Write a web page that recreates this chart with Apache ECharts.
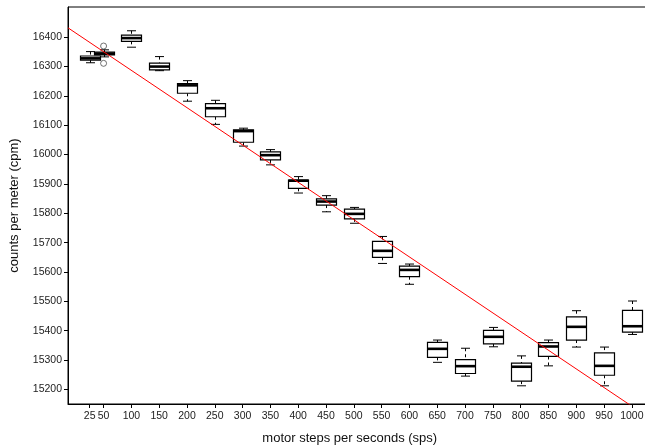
<!DOCTYPE html>
<html>
<head>
<meta charset="utf-8">
<script src="https://cdn.jsdelivr.net/npm/echarts@6/dist/echarts.min.js"></script>
<style>
  html, body { margin: 0; padding: 0; background: #fff; }
  #chart1 { width: 645px; height: 448px; }
</style>
</head>
<body>
<div id="chart1"></div>
<script>
var myChart = echarts.init(document.getElementById('chart1'));

// motor speed groups (sps)
var sps = [25, 50, 100, 150, 200, 250, 300, 350, 400, 450, 500, 550, 600, 650, 700, 750, 800, 850, 900, 950, 1000];
// box statistics per group (cpm)
var whiskerLow  = [16313, 16333, 16366, 16286, 16182, 16103, 16029, 15965, 15869, 15805, 15766, 15629, 15558, 15292, 15245, 15345, 15212, 15280, 15344, 15212, 15387];
var q1          = [16322, 16340, 16386, 16289, 16209, 16129, 16042, 15982, 15885, 15828, 15781, 15650, 15584, 15309, 15254, 15355, 15228, 15312, 15368, 15248, 15395];
var median      = [16328, 16344, 16397, 16300, 16236, 16158, 16080, 15998, 15911, 15840, 15798, 15672, 15607, 15338, 15279, 15379, 15277, 15346, 15413, 15280, 15415];
var q3          = [16336, 16349, 16407, 16312, 16242, 16174, 16084, 16009, 15913, 15849, 15814, 15704, 15620, 15360, 15301, 15401, 15289, 15359, 15447, 15324, 15469];
var whiskerHigh = [16351, 16357, 16422, 16334, 16252, 16185, 16090, 16017, 15925, 15860, 15820, 15721, 15627, 15368, 15340, 15411, 15314, 15368, 15468, 15344, 15501];
// outliers [sps, cpm]
var outliers = [[50, 16370], [50, 16311]];
// fitted regression line end points [sps, cpm]
var fitLine = [[-14, 16432], [1039, 15093]];
// y tick labels
var yTicks = [15200, 15300, 15400, 15500, 15600, 15700, 15800, 15900, 16000, 16100, 16200, 16300, 16400];

var boxData = sps.map(function (s, i) {
  return [s, whiskerLow[i], q1[i], median[i], q3[i], whiskerHigh[i]];
});

function renderBox(params, api) {
  var x = api.value(0);
  var lo = api.coord([x, api.value(1)]);
  var b1 = api.coord([x, api.value(2)]);
  var md = api.coord([x, api.value(3)]);
  var b3 = api.coord([x, api.value(4)]);
  var hi = api.coord([x, api.value(5)]);
  var cx = Math.round(lo[0]) + 0.5;
  var hw = 10, cw = 4.5;
  var solid = { stroke: '#000', lineWidth: 1, fill: null };
  var dash = { stroke: '#000', lineWidth: 1, lineDash: [3, 3] };
  return {
    type: 'group',
    children: [
      { type: 'line', shape: { x1: cx, y1: hi[1], x2: cx, y2: b3[1] }, style: dash },
      { type: 'line', shape: { x1: cx, y1: b1[1], x2: cx, y2: lo[1] }, style: dash },
      { type: 'line', shape: { x1: cx - cw, y1: hi[1], x2: cx + cw, y2: hi[1] }, style: solid },
      { type: 'line', shape: { x1: cx - cw, y1: lo[1], x2: cx + cw, y2: lo[1] }, style: solid },
      { type: 'rect', shape: { x: cx - hw, y: b3[1], width: 2 * hw, height: b1[1] - b3[1] },
        style: { stroke: '#000', lineWidth: 1.2, fill: '#fff' } },
      { type: 'line', shape: { x1: cx - hw, y1: md[1], x2: cx + hw, y2: md[1] },
        style: { stroke: '#000', lineWidth: 2.6 } }
    ]
  };
}

function plain(v) { return String(v); }

option = {
  animation: false,
  backgroundColor: '#fff',
  grid: {
    left: 68,
    top: 7,
    width: 585.5,
    height: 397,
    outerBoundsMode: 'none',
    containLabel: false,
    show: true,
    borderColor: '#000',
    borderWidth: 1
  },
  xAxis: {
    type: 'value',
    min: -14,
    max: 1039,
    name: 'motor steps per seconds (sps)',
    nameLocation: 'middle',
    nameGap: 28,
    nameTextStyle: { fontFamily: 'Liberation Sans', fontSize: 13, color: '#111', padding: [0, 22, 0, 0] },
    splitLine: { show: false },
    axisLine: { show: true, onZero: false, lineStyle: { color: '#000' } },
    axisTick: { show: true, length: 4, lineStyle: { color: '#000' }, customValues: sps },
    axisLabel: { fontFamily: 'Liberation Sans', fontSize: 10.5, color: '#222', margin: 7, customValues: sps, formatter: plain }
  },
  yAxis: {
    type: 'value',
    min: 15150,
    max: 16503,
    name: 'counts per meter (cpm)',
    nameLocation: 'middle',
    nameGap: 47,
    nameTextStyle: { fontFamily: 'Liberation Sans', fontSize: 13, color: '#111' },
    splitLine: { show: false },
    axisLine: { show: true, onZero: false, lineStyle: { color: '#000' } },
    axisTick: { show: true, length: 4, lineStyle: { color: '#000' }, customValues: yTicks },
    axisLabel: { fontFamily: 'Liberation Sans', fontSize: 10.5, color: '#222', margin: 6, customValues: yTicks, formatter: plain }
  },
  series: [
    {
      name: 'box',
      type: 'custom',
      renderItem: renderBox,
      encode: { x: 0, y: [1, 2, 3, 4, 5] },
      data: boxData,
      z: 2
    },
    {
      name: 'outliers',
      type: 'scatter',
      symbol: 'circle',
      symbolSize: 6,
      itemStyle: { color: 'rgba(0,0,0,0)', borderColor: '#222', borderWidth: 0.8 },
      data: outliers,
      z: 3
    },
    {
      name: 'fit',
      type: 'line',
      data: fitLine,
      symbol: 'none',
      clip: true,
      lineStyle: { color: '#ff0000', width: 1 },
      z: 4
    }
  ]
};
myChart.setOption(option);
</script>
</body>
</html>
